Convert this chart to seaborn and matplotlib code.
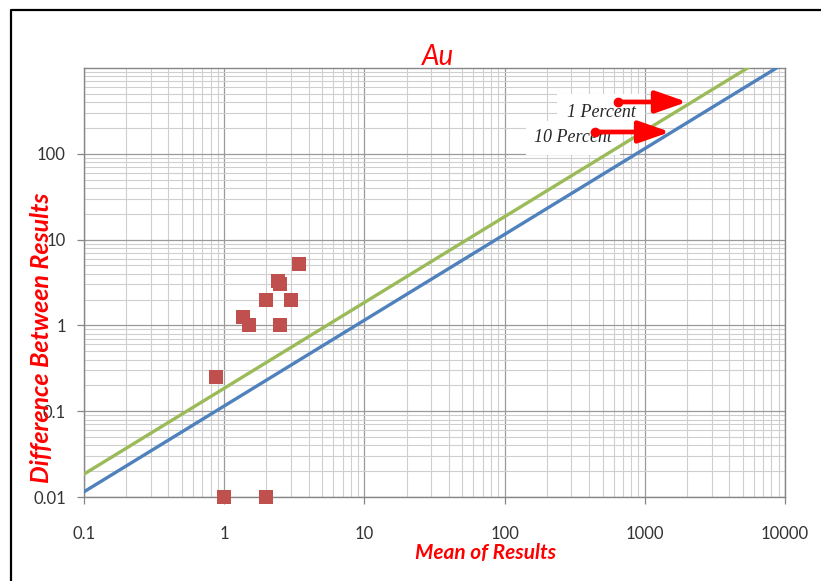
import matplotlib
matplotlib.use("Agg")
import matplotlib.pyplot as plt
from matplotlib.lines import Line2D
from matplotlib.ticker import LogLocator, FixedLocator, FixedFormatter, NullFormatter
import numpy as np
import pandas as pd
import seaborn as sns

# Paired-sample results for Au: mean of the two assays vs. their difference
mean_results = [3.4, 2.4, 2.5, 2.0, 3.0, 1.37, 1.5, 2.5, 0.88, 1.0, 2.0]
diff_results = [5.2, 3.3, 3.0, 2.0, 2.0, 1.25, 1.0, 1.0, 0.25, 0.01, 0.01]

# Precision limit lines (difference proportional to the mean)
limit_x = [0.1, 10000]
limit_10pct = [0.0115, 1150]
limit_1pct = [0.0185, 1850]

x_ticks = [0.1, 1, 10, 100, 1000, 10000]
x_tick_labels = ["0.1", "1", "10", "100", "1000", "10000"]
y_ticks = [0.01, 0.1, 1, 10, 100]
y_tick_labels = ["0.01", "0.1", "1", "10", "100"]

points = pd.DataFrame({"mean": mean_results, "diff": diff_results})
lines = pd.DataFrame({
    "x": limit_x * 2,
    "y": limit_10pct + limit_1pct,
    "limit": ["10 Percent"] * 2 + ["1 Percent"] * 2,
})

sns.set_theme(style="white")
plt.rcParams["font.family"] = ["Lato", "DejaVu Sans"]

W, H = 821, 581
fig = plt.figure(figsize=(W / 100, H / 100), dpi=100)
ax = fig.add_axes([84 / W, 1 - 497 / H, (785 - 84) / W, (497 - 68) / H])
ax.set_xscale("log")
ax.set_yscale("log")
ax.set_xlim(0.1, 10000)
ax.set_ylim(0.01, 1000)

# grid: major decades darker, minor subdivisions lighter
ax.xaxis.set_minor_locator(LogLocator(base=10, subs=np.arange(2, 10)))
ax.yaxis.set_minor_locator(LogLocator(base=10, subs=np.arange(2, 10)))
ax.grid(True, which="major", color="#9a9a9a", linewidth=0.9)
ax.grid(True, which="minor", color="#cfcfcf", linewidth=0.8)
ax.set_axisbelow(True)

sns.lineplot(data=lines, x="x", y="y", hue="limit",
             palette={"10 Percent": "#4F81BD", "1 Percent": "#9BBB59"},
             linewidth=2.4, legend=False, ax=ax, zorder=3)
sns.scatterplot(data=points, x="mean", y="diff", marker="s", s=95,
                color="#C0504D", linewidth=0, ax=ax, zorder=4, clip_on=False)

ax.xaxis.set_major_locator(FixedLocator(x_ticks))
ax.xaxis.set_major_formatter(FixedFormatter(x_tick_labels))
ax.xaxis.set_minor_formatter(NullFormatter())
ax.yaxis.set_major_locator(FixedLocator(y_ticks))
ax.yaxis.set_major_formatter(FixedFormatter(y_tick_labels))
ax.yaxis.set_minor_formatter(NullFormatter())
ax.tick_params(axis="x", which="major", direction="out", length=5, width=0.9,
               color="#868686", pad=16, labelsize=12, labelcolor="#333333",
               bottom=True)
ax.tick_params(axis="y", which="major", direction="out", length=5, width=0.9,
               color="#868686", pad=8, labelsize=12, labelcolor="#333333",
               left=True)
ax.tick_params(which="minor", length=0)
for sp in ax.spines.values():
    sp.set_visible(True)
    sp.set_color("#868686")
    sp.set_linewidth(1.0)

ax.set_xlabel("")
ax.set_ylabel("")
fig.text(486 / W, 1 - 553 / H, "Mean of Results", color="#FF0000",
         fontsize=15, fontweight="bold", fontstyle="italic",
         ha="center", va="center")
fig.text(42 / W, 1 - 338 / H, "Difference Between Results", color="#FF0000",
         fontsize=18, fontweight="bold", fontstyle="italic", rotation=90,
         ha="center", va="center")
fig.text(438 / W, 1 - 57 / H, "Au", color="#FF0000", fontsize=20,
         fontstyle="italic", ha="center", va="center")

# labelled arrows pointing at the two limit lines
serif = ["Liberation Serif", "DejaVu Serif"]
ax.text(488, 307, "1 Percent", family=serif, fontstyle="italic", fontsize=13,
        ha="center", va="center", zorder=2.5,
        bbox=dict(facecolor="white", edgecolor="none", pad=7))
ax.text(307, 153, "10 Percent", family=serif, fontstyle="italic", fontsize=13,
        ha="center", va="center", zorder=2.5,
        bbox=dict(facecolor="white", edgecolor="none", pad=6))
for (x0, x1, y) in [(644, 2000, 402), (442, 1514, 179.6)]:
    ax.annotate("", xy=(x1, y), xytext=(x0, y), zorder=6,
                arrowprops=dict(arrowstyle="-|>,head_length=1.2,head_width=0.42",
                                color="#FF0000", lw=3.4, mutation_scale=16,
                                shrinkA=0, shrinkB=0))
    ax.plot([x0], [y], marker="o", markersize=6, color="#FF0000", zorder=6)

# outer frame
fig.add_artist(Line2D([11 / W, 11 / W, 1.0], [0.0, 1 - 10 / H, 1 - 10 / H],
                      transform=fig.transFigure, color="black", linewidth=1.6))

fig.savefig("out.png", dpi=100)
